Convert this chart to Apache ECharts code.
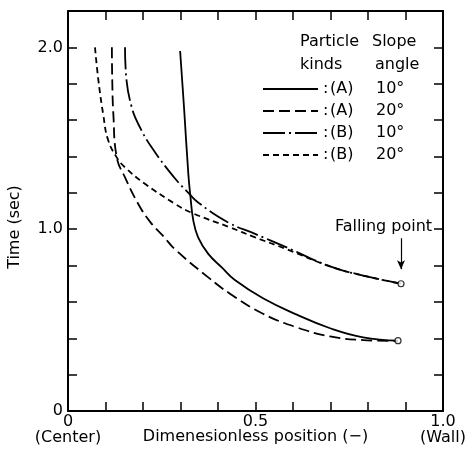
<!DOCTYPE html>
<html>
<head>
<meta charset="utf-8">
<script src="https://cdn.jsdelivr.net/npm/echarts@6/dist/echarts.min.js"></script>
<style>
html,body{margin:0;padding:0;background:#fff}
#main{width:465px;height:457px}
</style>
</head>
<body>
<div id="main"></div>
<script>
// 曲线数据 (x: dimensionless position, y: time sec)
var seriesNames = ['(A) 10°', '(A) 20°', '(B) 10°', '(B) 20°'];
var a10X = [0.299, 0.310, 0.321, 0.326, 0.334, 0.347, 0.374, 0.410, 0.445, 0.520, 0.610, 0.699, 0.787, 0.880];
var a10Y = [1.98, 1.65, 1.30, 1.19, 1.05, 0.955, 0.864, 0.79, 0.72, 0.62, 0.53, 0.455, 0.405, 0.387];
var a20X = [0.117, 0.118, 0.121, 0.130, 0.152, 0.187, 0.219, 0.255, 0.285, 0.374, 0.432, 0.520, 0.610, 0.699, 0.787, 0.880];
var a20Y = [2.00, 1.82, 1.63, 1.395, 1.285, 1.14, 1.04, 0.96, 0.89, 0.735, 0.645, 0.535, 0.46, 0.41, 0.39, 0.385];
var b10X = [0.152, 0.156, 0.170, 0.187, 0.223, 0.285, 0.321, 0.347, 0.427, 0.499, 0.583, 0.699, 0.787, 0.888];
var b10Y = [2.00, 1.82, 1.67, 1.58, 1.45, 1.28, 1.20, 1.147, 1.037, 0.974, 0.90, 0.795, 0.745, 0.70];
var b20X = [0.072, 0.081, 0.094, 0.107, 0.130, 0.152, 0.205, 0.285, 0.330, 0.432, 0.499, 0.583, 0.699, 0.787, 0.888];
var b20Y = [2.00, 1.82, 1.63, 1.49, 1.395, 1.34, 1.25, 1.14, 1.09, 1.01, 0.955, 0.89, 0.795, 0.745, 0.70];
var fallX = [0.888, 0.880];
var fallY = [0.70, 0.387];
var arrowX = 0.888, arrowFrom = 0.95, arrowTo = 0.78;
var xLabels = {0: '0\n(Center)', 5: '0.5', 10: '1.0\n(Wall)'};
var yLabels = {0: '0', 10: '1.0', 20: '2.0'};

var FONT = '"DejaVu Sans", sans-serif';
var chart = echarts.init(document.getElementById('main'), null, {renderer: 'canvas'});

function zip(xs, ys) {
    var out = [];
    for (var i = 0; i < xs.length; i++) out.push([xs[i], ys[i]]);
    return out;
}
function lineSeries(name, xs, ys, type) {
    return {
        name: name, type: 'line', data: zip(xs, ys), symbol: 'none', smooth: 0.45,
        lineStyle: {color: '#000', width: 1.8, type: type}, itemStyle: {color: '#000'},
        silent: true, animation: false, z: 3
    };
}
var axisCommon = {
    type: 'value', axisLine: {onZero: false, lineStyle: {color: '#000', width: 2}},
    axisTick: {inside: true, length: 9, lineStyle: {color: '#000', width: 1.5}},
    splitLine: {show: false}
};

chart.setOption({
    animation: false,
    grid: {left: 68, top: 11, right: 22, bottom: 46, outerBoundsMode: 'none', containLabel: false},
    xAxis: [
        Object.assign({}, axisCommon, {
            min: 0, max: 1, interval: 0.1, position: 'bottom',
            name: 'Dimenesionless position (−)', nameLocation: 'middle', nameGap: 18,
            nameMoveOverlap: false,
            nameTextStyle: {color: '#000', fontSize: 16, fontFamily: FONT},
            axisLabel: {
                color: '#000', fontSize: 16, fontFamily: FONT, margin: 3, lineHeight: 16,
                formatter: function (v) { var k = Math.round(v * 10); return xLabels[k] || ''; }
            }
        }),
        Object.assign({}, axisCommon, {
            min: 0, max: 1, interval: 0.1, position: 'top', axisLabel: {show: false}
        })
    ],
    yAxis: [
        Object.assign({}, axisCommon, {
            min: 0, max: 2.2, interval: 0.2, position: 'left',
            axisLabel: {
                color: '#000', fontSize: 16, fontFamily: FONT, margin: 5,
                formatter: function (v) { var k = Math.round(v * 10); return yLabels[k] || ''; }
            }
        }),
        Object.assign({}, axisCommon, {
            min: 0, max: 2.2, interval: 0.2, position: 'right', axisLabel: {show: false}
        })
    ],
    legend: {
        orient: 'vertical', left: 257, top: 76, itemWidth: 55, itemHeight: 14, itemGap: 6,
        selectedMode: false, data: seriesNames,
        itemStyle: {opacity: 0},
        textStyle: {
            color: '#000', fontSize: 16, fontFamily: FONT, lineHeight: 16,
            rich: {
                c: {fontSize: 16, fontFamily: FONT, width: 7},
                k: {fontSize: 16, fontFamily: FONT, width: 46},
                s: {fontSize: 16, fontFamily: FONT}
            }
        },
        formatter: function (name) {
            var p = name.split(' ');
            return '{c|:}{k|' + p[0] + '}{s|' + p[1] + '}';
        }
    },
    graphic: [
        {type: 'text', x: 300, y: 42, style: {text: 'Particle', font: '16px ' + FONT, fill: '#000', verticalAlign: 'middle'}},
        {type: 'text', x: 372, y: 42, style: {text: 'Slope', font: '16px ' + FONT, fill: '#000', verticalAlign: 'middle'}},
        {type: 'text', x: 300, y: 65, style: {text: 'kinds', font: '16px ' + FONT, fill: '#000', verticalAlign: 'middle'}},
        {type: 'text', x: 375, y: 65, style: {text: 'angle', font: '16px ' + FONT, fill: '#000', verticalAlign: 'middle'}},
        {type: 'text', x: 335, y: 227, style: {text: 'Falling point', font: '16px ' + FONT, fill: '#000', verticalAlign: 'middle'}},
        {type: 'text', x: 15, y: 227, rotation: Math.PI / 2,
            style: {text: 'Time (sec)', font: '16px ' + FONT, fill: '#000', align: 'center', verticalAlign: 'middle'}}
    ],
    series: [
        lineSeries(seriesNames[0], a10X, a10Y, 'solid'),
        lineSeries(seriesNames[1], a20X, a20Y, [11, 5]),
        lineSeries(seriesNames[2], b10X, b10Y, [22, 4, 2, 4]),
        lineSeries(seriesNames[3], b20X, b20Y, [6, 4]),
        {
            type: 'scatter', data: zip(fallX, fallY), symbol: 'circle', symbolSize: 6,
            itemStyle: {color: '#fff', borderColor: '#000', borderWidth: 1.2}, z: 5, silent: true,
            markLine: {
                silent: true, symbol: ['none', 'arrow'], symbolSize: [6, 9],
                lineStyle: {color: '#000', width: 1.2, type: 'solid'}, label: {show: false},
                data: [[{coord: [arrowX, arrowFrom]}, {coord: [arrowX, arrowTo]}]]
            }
        }
    ]
});
</script>
</body>
</html>
